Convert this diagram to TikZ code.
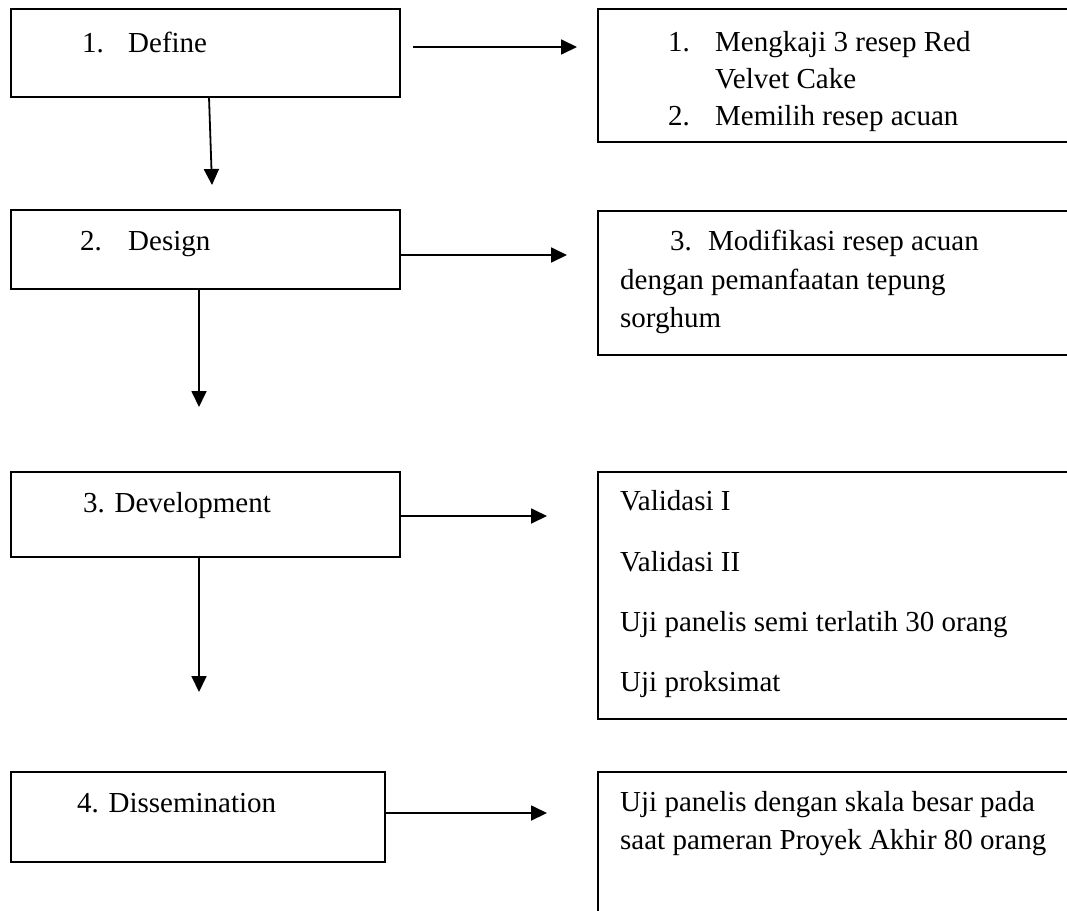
\documentclass[tikz,border=0pt]{standalone}
\usepackage{fontspec}
\setmainfont{Liberation Serif}
\usetikzlibrary{arrows.meta}
\begin{document}
\begin{tikzpicture}[x=1pt,y=-1pt,
  box/.style={draw=black,line width=1.6pt,inner sep=0pt,outer sep=0pt,anchor=north west},
  txt/.style={inner sep=0pt,anchor=base west,font=\fontsize{29pt}{36pt}\selectfont},
  arr/.style={line width=1.8pt,-{Triangle[length=16pt,width=15pt]}}]
\useasboundingbox (0,0) rectangle (1067,910);
\clip (0,0) rectangle (1067,910);
% left column
\node[box,minimum width=389pt,minimum height=88pt] (define) at (11,9) {};
\node[box,minimum width=389pt,minimum height=79pt] (design) at (11,210) {};
\node[box,minimum width=389pt,minimum height=85pt] (devel) at (11,472) {};
\node[box,minimum width=374pt,minimum height=90pt] (dissem) at (11,772) {};
\node[txt] (t1a) at (82,52) {1.};
\node[txt] (t1b) at (128,52) {Define};
\node[txt] (t2a) at (80,250) {2.};
\node[txt] (t2b) at (128,250) {Design};
\node[txt] (t3) at (83,512) {3. Development};
\node[txt] (t4) at (77,812) {4. Dissemination};
% right column
\node[box,minimum width=600pt,minimum height=133pt] (r1) at (598,9) {};
\node[box,minimum width=600pt,minimum height=144pt] (r2) at (598,211) {};
\node[box,minimum width=600pt,minimum height=247pt] (r3) at (598,472) {};
\node[box,minimum width=600pt,minimum height=250pt] (r4) at (598,772) {};
\node[txt] (r1a) at (668,51) {1.};
\node[txt] (r1b) at (715,51) {Mengkaji 3 resep Red};
\node[txt] (r1c) at (715,88) {Velvet Cake};
\node[txt] (r1d) at (668,125) {2.};
\node[txt] (r1e) at (715,125) {Memilih resep acuan};
\node[txt] (r2a) at (670,250) {3.};
\node[txt] (r2b) at (708,250) {Modifikasi resep acuan};
\node[txt] (r2c) at (620,289) {dengan pemanfaatan tepung};
\node[txt] (r2d) at (620,327) {sorghum};
\node[txt] (r3a) at (620,510) {Validasi I};
\node[txt] (r3b) at (620,571) {Validasi II};
\node[txt] (r3c) at (620,631) {Uji panelis semi terlatih 30 orang};
\node[txt] (r3d) at (620,691) {Uji proksimat};
\node[txt] (r4a) at (620,811) {Uji panelis dengan skala besar pada};
\node[txt] (r4b) at (620,849) {saat pameran Proyek Akhir 80 orang};
% connector end points
\coordinate (h1s) at (413,47);
\coordinate (h1e) at (577,47);
\coordinate (h2e) at (567,255);
\coordinate (h3e) at (547,516);
\coordinate (h4e) at (547,813);
\coordinate (v1e) at (212,185);
\coordinate (v2e) at (199,407);
\coordinate (v3e) at (199,692);
% connectors
\draw[arr] (h1s) -- (h1e);
\draw[arr] (design.east |- h2e) -- (h2e);
\draw[arr] (devel.east |- h3e) -- (h3e);
\draw[arr] (dissem.east |- h4e) -- (h4e);
\draw[arr] ([xshift=3.5pt]define.south) -- (v1e);
\draw[arr] (design.south -| v2e) -- (v2e);
\draw[arr] (devel.south -| v3e) -- (v3e);
\end{tikzpicture}
\end{document}
